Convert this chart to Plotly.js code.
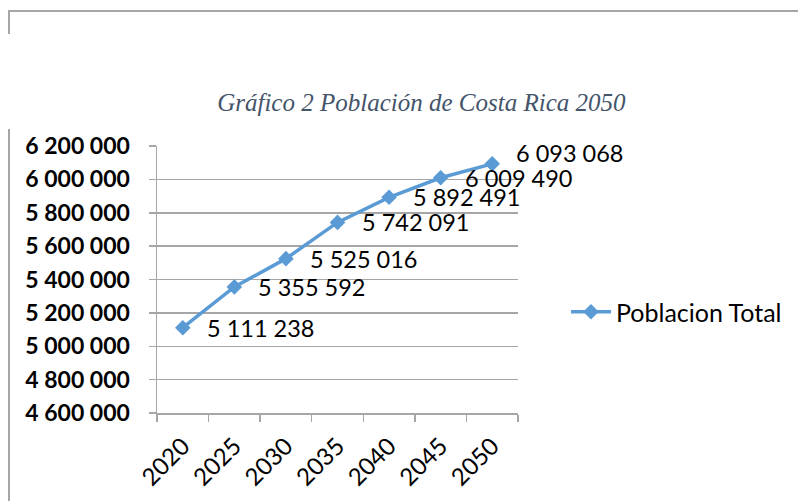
<!DOCTYPE html>
<html>
<head>
<meta charset="utf-8">
<script src="https://cdn.plot.ly/plotly-3.0.1.min.js"></script>
<style>
html,body{margin:0;padding:0;background:#fff;}
#wrap{position:relative;width:798px;height:501px;overflow:hidden;}
#chart{width:798px;height:501px;}
.fr{position:absolute;background:#a6a6a6;pointer-events:none;}
</style>
</head>
<body>
<div id="wrap">
<div id="chart"></div>
<div class="fr" style="left:8px;top:10px;width:790px;height:2px;"></div>
<div class="fr" style="left:8px;top:10px;width:2px;height:24px;"></div>
<div class="fr" style="left:8px;top:129px;width:2px;height:372px;"></div>
</div>
<script>
const years = ["2020", "2025", "2030", "2035", "2040", "2045", "2050"];
const poblacionTotal = [5111238, 5355592, 5525016, 5742091, 5892491, 6009490, 6093068];
const seriesName = "Poblacion Total";
const chartTitle = "Gráfico 2 Población de Costa Rica 2050";

function fmt(n) {
  return String(n).replace(/\B(?=(\d{3})+(?!\d))/g, " ");
}

const font = "Lato, 'Open Sans', sans-serif";
const blue = "#5B9BD5";
const grid = "#a6a6a6";

const trace = {
  x: years.slice(),
  y: poblacionTotal.slice(),
  type: "scatter",
  mode: "lines+markers",
  name: seriesName,
  line: {color: blue, width: 3.5},
  marker: {symbol: "diamond", size: 12, color: blue},
  cliponaxis: false
};

const annotations = years.map((yr, i) => ({
  x: i,
  y: poblacionTotal[i],
  xref: "x",
  yref: "y",
  text: fmt(poblacionTotal[i]),
  showarrow: false,
  xanchor: "left",
  yanchor: "middle",
  xshift: 22,
  yshift: i === years.length - 1 ? 11 : 0,
  font: {family: font, size: 23.5, color: "#000"}
}));

const layout = {
  width: 798,
  height: 501,
  margin: {l: 157, r: 279, t: 146, b: 88, pad: 0},
  paper_bgcolor: "#fff",
  plot_bgcolor: "#fff",
  separators: ". ",
  autotypenumbers: "strict",
  title: {
    text: chartTitle,
    font: {family: "'Liberation Serif', 'Times New Roman', serif", size: 25, color: "#44546A", style: "italic"},
    xref: "container",
    yref: "container",
    x: 0.528,
    xanchor: "center",
    y: 1 - 102 / 501,
    yanchor: "middle"
  },
  xaxis: {
    type: "category",
    categoryorder: "array",
    categoryarray: years,
    range: [-0.5, years.length - 0.5],
    showgrid: false,
    showline: true,
    linecolor: grid,
    linewidth: 1.5,
    ticks: "outside",
    tickson: "boundaries",
    ticklen: 7,
    tickcolor: grid,
    tickwidth: 1.5,
    tickangle: -45,
    ticklabelstandoff: 8,
    tickfont: {family: font, size: 24, color: "#000"},
    zeroline: false
  },
  yaxis: {
    range: [4600000, 6200000],
    dtick: 200000,
    tick0: 4600000,
    tickformat: ",d",
    showgrid: true,
    gridcolor: grid,
    gridwidth: 1.5,
    showline: true,
    linecolor: grid,
    linewidth: 1.5,
    ticks: "outside",
    ticklen: 7,
    tickcolor: grid,
    tickwidth: 1.5,
    ticklabelstandoff: 14,
    tickfont: {family: font, size: 23, color: "#000", weight: "bold"},
    zeroline: false
  },
  showlegend: true,
  legend: {
    x: (566 - 157) / 362,
    xanchor: "left",
    y: (413 - 312) / 267,
    yanchor: "middle",
    font: {family: font, size: 25, color: "#000"},
    bgcolor: "rgba(0,0,0,0)",
    itemwidth: 40
  },
  annotations: annotations
};

Plotly.newPlot("chart", [trace], layout, {displayModeBar: false, staticPlot: true});
</script>
</body>
</html>
